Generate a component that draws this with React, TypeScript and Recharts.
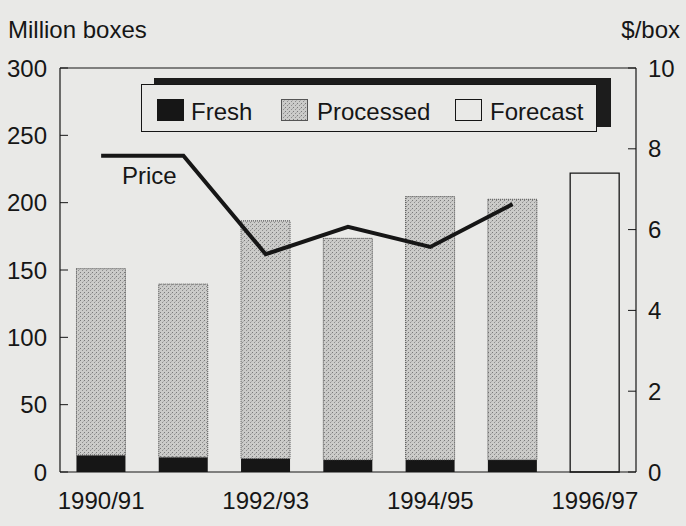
import { Bar, ComposedChart, Line, ReferenceLine, XAxis, YAxis } from "recharts";

const seasons = ["1990/91", "1991/92", "1992/93", "1993/94", "1994/95", "1995/96", "1996/97"];
const freshBoxes = [12.5, 11, 10, 9, 9, 9, null];
const processedBoxes = [138.5, 128.5, 176.5, 164.5, 195.5, 193.5, null];
const forecastBoxes = [null, null, null, null, null, null, 222];
const pricePerBox = [7.83, 7.83, 5.39, 6.07, 5.57, 6.63, null];
const boxTicks = [0, 50, 100, 150, 200, 250, 300];
const priceTicks = [0, 2, 4, 6, 8, 10];

const data = seasons.map((season, i) => ({
  season,
  fresh: freshBoxes[i],
  processed: processedBoxes[i],
  forecast: forecastBoxes[i],
  price: pricePerBox[i],
}));

const FONT = '"Liberation Sans", Arial, sans-serif';
const INK = "#161616";
const BG = "#e9e9e7";

function LeftTick({ x, y, payload }: any) {
  return (
    <g>
      <line x1={x} x2={x + 8} y1={y} y2={y} stroke={INK} strokeWidth={1} />
      <text x={x - 13} y={y + 8.5} textAnchor="end" fontSize={24} fontFamily={FONT} fill={INK}>
        {payload.value}
      </text>
    </g>
  );
}

function RightTick({ x, y, payload }: any) {
  return (
    <g>
      <line x1={x} x2={x - 8} y1={y} y2={y} stroke={INK} strokeWidth={1} />
      <text x={x + 12} y={y + 8.5} textAnchor="start" fontSize={24} fontFamily={FONT} fill={INK}>
        {payload.value}
      </text>
    </g>
  );
}

function BottomTick({ x, y, payload }: any) {
  return (
    <text x={x} y={y + 36.5} textAnchor="middle" fontSize={24} fontFamily={FONT} fill={INK}>
      {payload.value}
    </text>
  );
}

function Swatch({ kind }: { kind: "fresh" | "processed" | "forecast" }) {
  const fill = kind === "fresh" ? INK : kind === "processed" ? "url(#stipple)" : BG;
  return (
    <svg width={27} height={22} style={{ display: "block" }}>
      <rect x={0.5} y={0.5} width={26} height={21} fill={fill} stroke={kind === "processed" ? "#555" : INK} strokeWidth={1} />
    </svg>
  );
}

const text24 = { position: "absolute" as const, fontFamily: FONT, fontSize: 24, lineHeight: "24px", color: INK, whiteSpace: "nowrap" as const };

export default function App() {
  return (
    <div style={{ position: "absolute", left: 0, top: 0, width: 686, height: 526, background: BG, overflow: "hidden" }}>
      <svg width={0} height={0} style={{ position: "absolute" }}>
        <defs>
          <pattern id="stipple" width={4} height={4} patternUnits="userSpaceOnUse">
            <rect width={4} height={4} fill="#cbcbc9" />
            <rect x={0} y={0} width={1} height={1} fill="#7a7a7a" />
            <rect x={2} y={2} width={1} height={1} fill="#8e8e8e" />
            <rect x={3} y={1} width={1} height={1} fill="#b0b0b0" />
          </pattern>
        </defs>
      </svg>

      <ComposedChart
        width={686}
        height={526}
        data={data}
        margin={{ top: 68, right: 0, bottom: 0, left: 0 }}
        barCategoryGap="20%"
      >
        <XAxis
          dataKey="season"
          interval={1}
          height={54}
          tickLine={false}
          tickSize={0}
          tickMargin={0}
          axisLine={{ stroke: INK, strokeWidth: 1.2 }}
          tick={<BottomTick />}
        />
        <YAxis
          yAxisId="left"
          width={60}
          domain={[0, 300]}
          ticks={boxTicks}
          tickLine={false}
          tickSize={0}
          tickMargin={0}
          axisLine={{ stroke: INK, strokeWidth: 1.2 }}
          tick={<LeftTick />}
        />
        <YAxis
          yAxisId="right"
          orientation="right"
          width={50}
          domain={[0, 10]}
          ticks={priceTicks}
          tickLine={false}
          tickSize={0}
          tickMargin={0}
          axisLine={{ stroke: INK, strokeWidth: 1.2 }}
          tick={<RightTick />}
        />
        <ReferenceLine yAxisId="left" y={300} stroke={INK} strokeWidth={1.2} />
        <Bar yAxisId="left" dataKey="fresh" stackId="a" fill={INK} isAnimationActive={false} />
        <Bar
          yAxisId="left"
          dataKey="processed"
          stackId="a"
          fill="url(#stipple)"
          stroke="#444"
          strokeWidth={1}
          strokeDasharray="1 1"
          isAnimationActive={false}
        />
        <Bar yAxisId="left" dataKey="forecast" stackId="a" fill={BG} stroke={INK} strokeWidth={1.3} isAnimationActive={false} />
        <Line
          yAxisId="right"
          type="linear"
          dataKey="price"
          stroke={INK}
          strokeWidth={4}
          dot={false}
          activeDot={false}
          isAnimationActive={false}
        />
      </ComposedChart>

      <div style={{ ...text24, left: 8, top: 18 }}>Million boxes</div>
      <div style={{ ...text24, right: 6, top: 18 }}>$/box</div>
      <div style={{ ...text24, left: 122, top: 164 }}>Price</div>

      {/* legend: dark drop shadow behind a framed box */}
      <div style={{ position: "absolute", left: 154, top: 78, width: 457, height: 49, background: "#1c1c1c" }} />
      <div
        style={{
          position: "absolute",
          left: 141,
          top: 84,
          width: 454,
          height: 46,
          background: BG,
          border: `1px solid ${INK}`,
        }}
      >
        <div style={{ position: "absolute", left: 15, top: 14 }}>
          <Swatch kind="fresh" />
        </div>
        <div style={{ ...text24, left: 49, top: 15 }}>Fresh</div>
        <div style={{ position: "absolute", left: 139, top: 14 }}>
          <Swatch kind="processed" />
        </div>
        <div style={{ ...text24, left: 175, top: 15 }}>Processed</div>
        <div style={{ position: "absolute", left: 313, top: 14 }}>
          <Swatch kind="forecast" />
        </div>
        <div style={{ ...text24, left: 348, top: 15 }}>Forecast</div>
      </div>
    </div>
  );
}
